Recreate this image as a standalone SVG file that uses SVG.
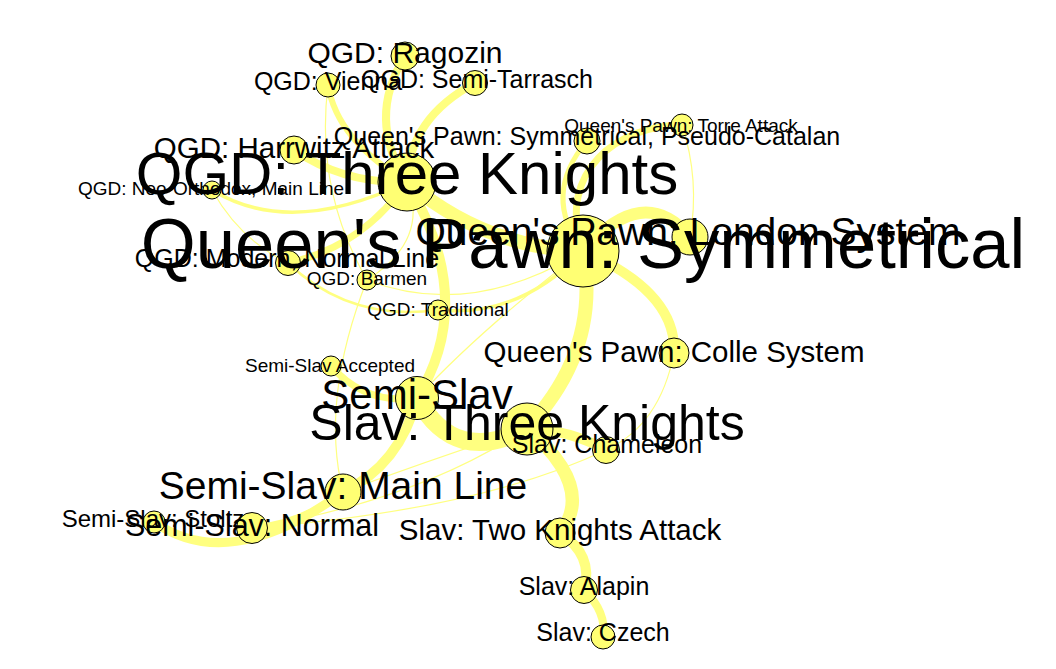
<svg xmlns="http://www.w3.org/2000/svg" width="1056" height="669" viewBox="0 0 1056 669">
<style>
.e{fill:none;stroke:#ffff80;stroke-linecap:butt}
.t{stroke-width:1.2}
.n{fill:#ffff73;stroke:#000;stroke-width:1}
text{font-family:"Liberation Sans",Arial,sans-serif;fill:#000;text-anchor:middle}
</style>
<rect width="1056" height="669" fill="#fff"/>
<g id="edges">
<path class="e t" d="M328,85 Q315,190 367,280"/>
<path class="e" stroke-width="2.5" d="M288,263 Q350,322 438,310"/>
<path class="e" stroke-width="3.5" d="M438,310 Q520,318 583,251"/>
<path class="e t" d="M367,280 Q470,320 583,251"/>
<path class="e t" d="M212,190 Q240,240 288,263"/>
<path class="e t" d="M367,280 Q320,400 343,492"/>
<path class="e t" d="M252,528 Q480,510 606,450"/>
<path class="e t" d="M343,492 Q430,460 527,428"/>
<path class="e t" d="M252,528 Q420,500 527,428"/>
<path class="e t" d="M674,353 Q660,425 606,450"/>
<path class="e t" d="M583,251 Q480,330 417,398"/>
<path class="e t" d="M682,125 Q700,180 690,237"/>
<path class="e t" d="M407,182 Q430,240 367,280"/>
<path class="e" stroke-width="8" d="M405,56 Q366,119 407,182"/>
<path class="e" stroke-width="6" d="M328,85 Q337,140 407,182"/>
<path class="e" stroke-width="8" d="M475,83 Q409,118 407,182"/>
<path class="e" stroke-width="8" d="M294,150 Q344,184 407,182"/>
<path class="e" stroke-width="3.5" d="M212,190 Q290,238 407,182"/>
<path class="e" stroke-width="7" d="M288,263 Q362,247 407,182"/>
<path class="e" stroke-width="14" d="M407,182 Q485,248 583,251"/>
<path class="e" stroke-width="10" d="M407,182 Q478,300 417,398"/>
<path class="e" stroke-width="12" d="M583,251 Q643,182 690,237"/>
<path class="e" stroke-width="10" d="M583,251 Q677,292 674,353"/>
<path class="e" stroke-width="14" d="M583,251 Q601,350 527,428"/>
<path class="e" stroke-width="7" d="M682,125 C620,125 555,170 583,251"/>
<path class="e" stroke-width="5" d="M587,141 Q541,195 583,251"/>
<path class="e" stroke-width="18" d="M417,398 Q455,467 527,428"/>
<path class="e" stroke-width="10" d="M527,428 Q570,430 606,450"/>
<path class="e" stroke-width="7" d="M331,366 Q365,405 417,398"/>
<path class="e" stroke-width="10" d="M417,398 Q400,465 343,492"/>
<path class="e" stroke-width="9" d="M154,522 Q230,575 343,492"/>
<path class="e" stroke-width="7" d="M343,492 Q300,525 252,528"/>
<path class="e" stroke-width="13" d="M527,428 Q596,488 560,533"/>
<path class="e" stroke-width="10" d="M560,533 Q594,555 584,590"/>
<path class="e" stroke-width="8" d="M584,590 Q607,612 603,637"/>
</g>
<g id="nodes">
<g id="n-ragozin"><circle class="n" cx="405" cy="56" r="14"/></g>
<g id="n-vienna"><circle class="n" cx="328" cy="85" r="12"/></g>
<g id="n-semitarrasch"><circle class="n" cx="475" cy="83" r="12.5"/></g>
<g id="n-harrwitz"><circle class="n" cx="294" cy="150" r="14"/></g>
<g id="n-qgd3k"><circle class="n" cx="407" cy="182" r="29"/></g>
<g id="n-neoortho"><circle class="n" cx="212" cy="190" r="9"/></g>
<g id="n-modern"><circle class="n" cx="288" cy="263" r="12.5"/></g>
<g id="n-barmen"><circle class="n" cx="367" cy="280" r="10"/></g>
<g id="n-traditional"><circle class="n" cx="438" cy="310" r="10"/></g>
<g id="n-pseudocat"><circle class="n" cx="587" cy="141" r="13"/></g>
<g id="n-torre"><circle class="n" cx="682" cy="125" r="11"/></g>
<g id="n-qps"><circle class="n" cx="583" cy="251" r="36"/></g>
<g id="n-london"><circle class="n" cx="690" cy="237" r="18"/></g>
<g id="n-colle"><circle class="n" cx="674" cy="353" r="15"/></g>
<g id="n-ssaccepted"><circle class="n" cx="331" cy="366" r="10"/></g>
<g id="n-semislav"><circle class="n" cx="417" cy="398" r="21.5"/></g>
<g id="n-slav3k"><circle class="n" cx="527" cy="429" r="26"/></g>
<g id="n-chameleon"><circle class="n" cx="606" cy="450" r="13.5"/></g>
<g id="n-mainline"><circle class="n" cx="343" cy="492" r="18"/></g>
<g id="n-normal"><circle class="n" cx="252" cy="528" r="15.5"/></g>
<g id="n-stoltz"><circle class="n" cx="154" cy="522" r="11"/></g>
<g id="n-twoknights"><circle class="n" cx="560" cy="533" r="15"/></g>
<g id="n-alapin"><circle class="n" cx="584" cy="590" r="13.5"/></g>
<g id="n-czech"><circle class="n" cx="603" cy="637" r="12"/></g>
</g>
<g id="labels">
<text x="405" y="63" font-size="30">QGD: Ragozin</text>
<text x="328" y="90" font-size="25">QGD: Vienna</text>
<text x="477" y="88" font-size="25">QGD: Semi-Tarrasch</text>
<text x="681" y="132" font-size="19">Queen's Pawn: Torre Attack</text>
<text x="587" y="145" font-size="25">Queen's Pawn: Symmetrical, Pseudo-Catalan</text>
<text x="294" y="158" font-size="29.5">QGD: Harrwitz Attack</text>
<text x="407" y="194" font-size="60">QGD: Three Knights</text>
<text x="211" y="195" font-size="19">QGD: Neo-Orthodox, Main Line</text>
<text x="583" y="268" font-size="70.6">Queen's Pawn: Symmetrical</text>
<text x="688" y="245" font-size="39">Queen's Pawn: London System</text>
<text x="287" y="267" font-size="25">QGD: Modern, Normal Line</text>
<text x="367" y="285" font-size="19">QGD: Barmen</text>
<text x="438" y="316" font-size="19">QGD: Traditional</text>
<text x="674" y="362" font-size="29.5">Queen's Pawn: Colle System</text>
<text x="330" y="372" font-size="19">Semi-Slav Accepted</text>
<text x="417" y="409" font-size="42">Semi-Slav</text>
<text x="527" y="440" font-size="50">Slav: Three Knights</text>
<text x="607" y="453" font-size="25">Slav: Chameleon</text>
<text x="343" y="499" font-size="39">Semi-Slav: Main Line</text>
<text x="153" y="527" font-size="24">Semi-Slav: Stoltz</text>
<text x="252" y="536" font-size="30.5">Semi-Slav: Normal</text>
<text x="560" y="540" font-size="29.5">Slav: Two Knights Attack</text>
<text x="584" y="595" font-size="25">Slav: Alapin</text>
<text x="603" y="641" font-size="25">Slav: Czech</text>
</g>
</svg>
